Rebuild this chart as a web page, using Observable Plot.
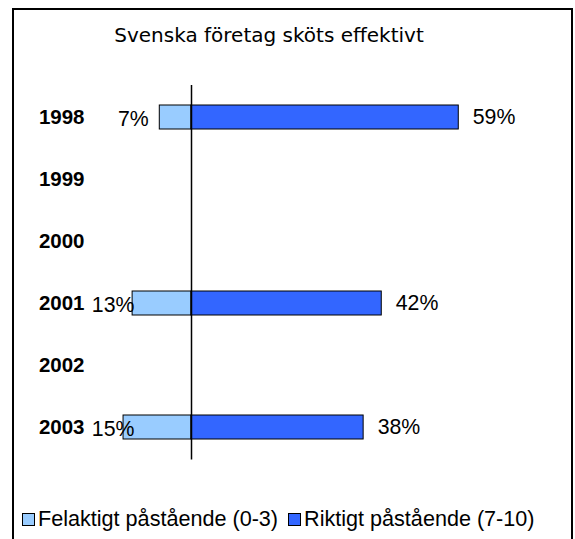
<!DOCTYPE html>
<html>
<head>
<meta charset="utf-8">
<script src="https://cdn.jsdelivr.net/npm/d3@7"></script>
<script src="https://cdn.jsdelivr.net/npm/@observablehq/plot@0.6"></script>
<style>
  html, body { margin: 0; padding: 0; background: #fff; overflow: hidden; }
  #wrap { position: relative; width: 575px; height: 539px; overflow: hidden; }
  #border { position: absolute; left: 12px; top: 8px; width: 557px; height: 600px; border: 2px solid #000; border-bottom: none; }
  #chart { position: absolute; left: 0; top: 0; }
  #title { position: absolute; left: 0; top: 25px; width: 538px; text-align: center;
           font-family: "DejaVu Sans", Verdana, sans-serif; font-size: 20px; line-height: 20px; color: #000; white-space: nowrap; }
  #legend { position: absolute; left: 22px; top: 508px; font-family: "Liberation Sans", Arial, sans-serif;
            font-size: 21.6px; line-height: 21px; color: #000; white-space: nowrap; }
  .sw { display: inline-block; width: 11px; height: 11px; border: 1px solid #000; margin-right: 3px; vertical-align: baseline; }
  .item { margin-right: 10px; }
</style>
</head>
<body>
<div id="wrap">
  <div id="border"></div>
  <div id="chart"></div>
  <div id="title"></div>
  <div id="legend"></div>
</div>
<script>
const title = "Svenska företag sköts effektivt";
const years = ["1998", "1999", "2000", "2001", "2002", "2003"];
const felaktigt = [7, null, null, 13, null, 15];
const riktigt = [59, null, null, 42, null, 38];
const seriesNames = ["Felaktigt påstående (0-3)", "Riktigt påstående (7-10)"];
const seriesColors = ["#99CCFF", "#3366FF"];

const rows = years.map((y, i) => ({year: y, fel: felaktigt[i], rik: riktigt[i]}));
const felRows = rows.filter(d => d.fel != null);
const rikRows = rows.filter(d => d.rik != null);

// label placement for the left values (kept inside the plot area like the original)
const pxPerUnit = 4.53, xMin = -25, leftLimit = -22;
const textW = s => 21.3 * (0.556 * (s.length - 1) + 0.889);
const leftLabelX = d => {
  const s = d.fel + "%";
  return Math.max(-d.fel - 11 / pxPerUnit, leftLimit + textW(s) / pxPerUnit);
};

const chart = Plot.plot({
  width: 575,
  height: 539,
  marginLeft: 77.75,
  marginRight: 21.6,
  marginTop: 85,
  marginBottom: 79.4,
  style: {fontFamily: "'Liberation Sans', Arial, sans-serif", background: "transparent", color: "#000"},
  x: {domain: [xMin, 80], axis: null},
  y: {domain: years, paddingInner: 0.614, paddingOuter: 0.322, axis: null},
  marks: [
    Plot.barX(felRows, {y: "year", x1: d => -d.fel, x2: 0, fill: seriesColors[0], stroke: "#000", strokeWidth: 1}),
    Plot.barX(rikRows, {y: "year", x1: 0, x2: "rik", fill: seriesColors[1], stroke: "#000", strokeWidth: 1}),
    Plot.ruleX([0], {stroke: "#000", strokeWidth: 1.5}),
    Plot.axisY({tickSize: 0, tickPadding: 0, dx: 6.25, fontSize: 20.5, fontWeight: "bold", fill: "#000", label: null}),
    Plot.text(rikRows, {y: "year", x: "rik", text: d => d.rik + "%", textAnchor: "start", dx: 14, fontSize: 21.3, fill: "#000"}),
    Plot.text(felRows, {y: "year", x: leftLabelX, text: d => d.fel + "%", textAnchor: "end", dy: 2, fontSize: 21.3, fill: "#000"})
  ]
});
document.getElementById("chart").appendChild(chart);
document.getElementById("title").textContent = title;

const legend = document.getElementById("legend");
seriesNames.forEach((name, i) => {
  const item = document.createElement("span");
  item.className = "item";
  const sw = document.createElement("span");
  sw.className = "sw";
  sw.style.background = seriesColors[i];
  item.appendChild(sw);
  item.appendChild(document.createTextNode(name));
  legend.appendChild(item);
});
</script>
</body>
</html>
